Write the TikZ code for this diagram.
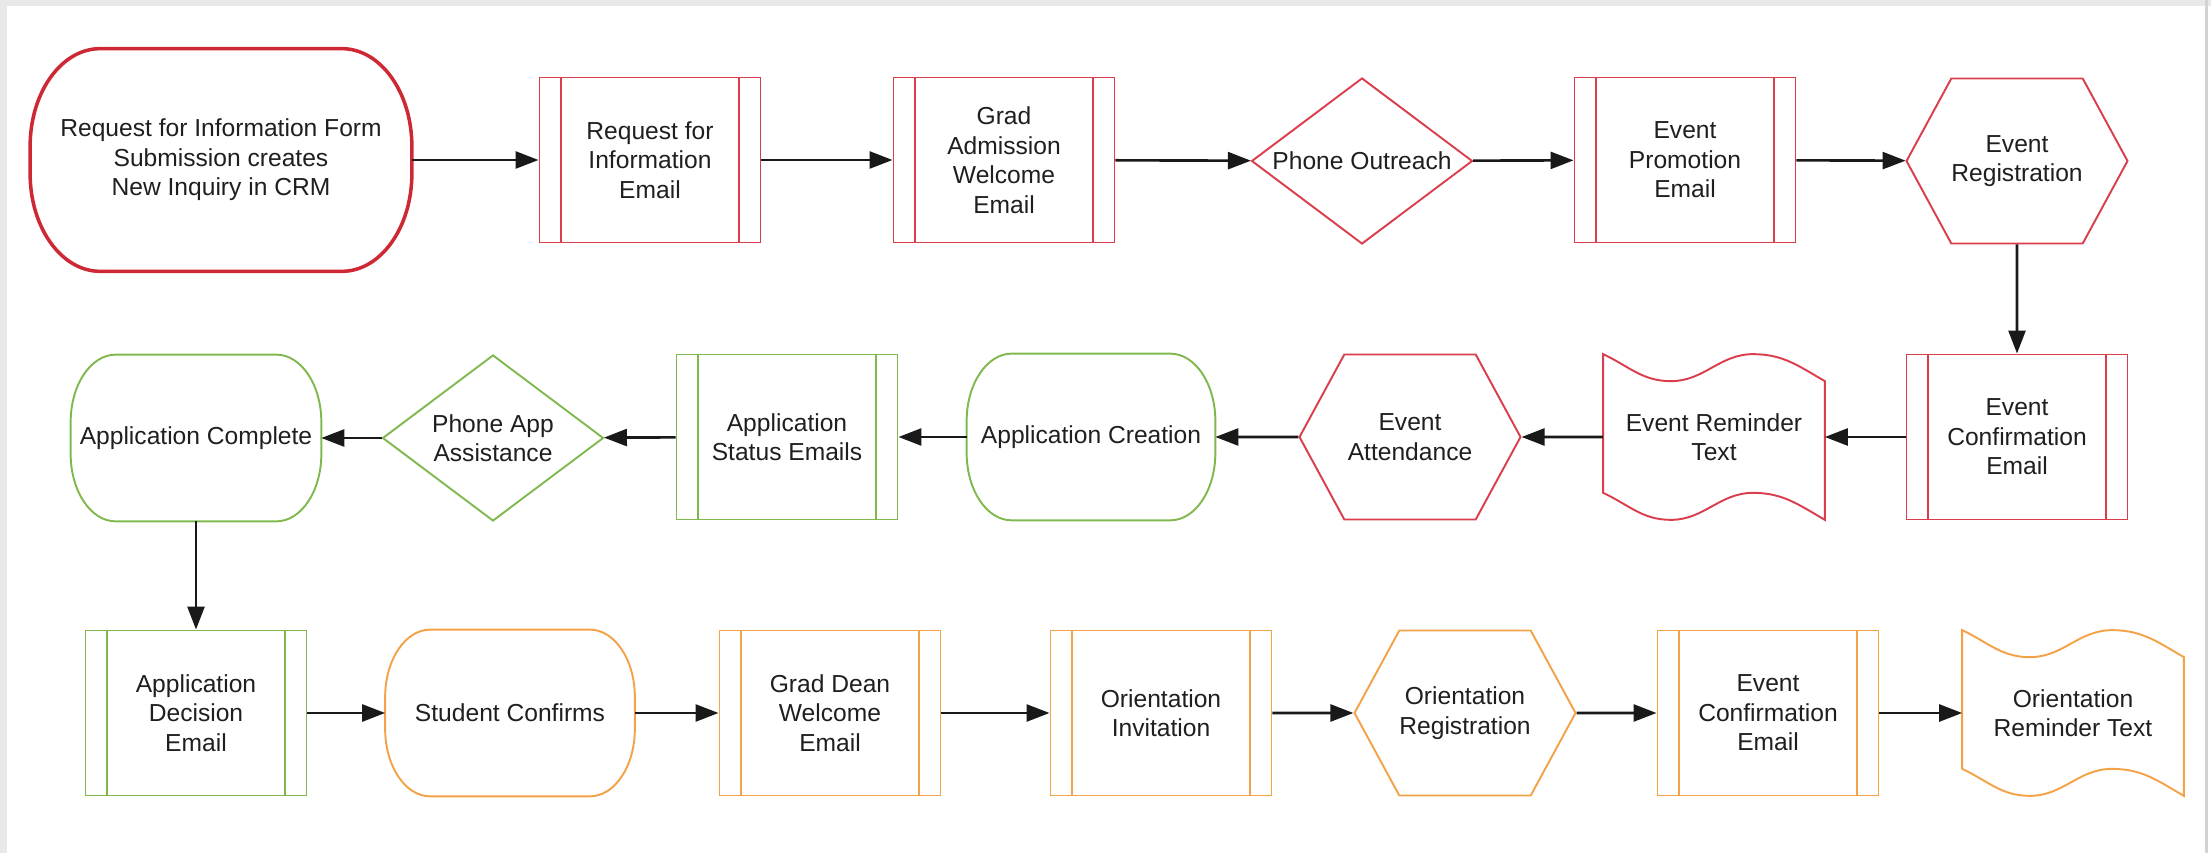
\documentclass[tikz,border=0pt]{standalone}
\usepackage{fontspec}
\setmainfont{Liberation Sans}
\usetikzlibrary{shapes.geometric,shapes.symbols,arrows.meta}
\definecolor{flowred}{RGB}{218,62,76}
\definecolor{startred}{RGB}{205,40,52}
\definecolor{flowgreen}{RGB}{128,184,78}
\definecolor{floworange}{RGB}{244,162,72}
\tikzset{
  flowtext/.style={font=\fontsize{14}{16.8}\selectfont, text=black!88, align=center, inner sep=0pt},
  emailbox/.style={flowtext, rectangle, draw=#1, line width=1.1pt,
    minimum width=44.2mm, minimum height=33mm,
    path picture={\draw[#1, line width=1.1pt]
      ([xshift=4.3mm]path picture bounding box.north west) -- ([xshift=4.3mm]path picture bounding box.south west)
      ([xshift=-4.3mm]path picture bounding box.north east) -- ([xshift=-4.3mm]path picture bounding box.south east);}},
  decision/.style={flowtext, diamond, draw=#1, line width=1.1pt, aspect=1.35,
    minimum width=44.2mm, minimum height=33.2mm},
  hexa/.style={flowtext, signal, signal to=east and west, signal pointer angle=123,
    draw=#1, line width=1.1pt, minimum width=44.2mm, minimum height=33mm},
  termbox/.style={flowtext, rectangle, minimum width=#1},
  tapebox/.style={flowtext, rectangle, minimum width=44.2mm, minimum height=33mm},
  flowarrow/.style={line width=1.5pt, black!90, -{Triangle[length=4.6mm,width=3.4mm]}}
}
\begin{document}
\begin{tikzpicture}[x=0.2mm, y=-0.2mm]
  \useasboundingbox (0,0) rectangle (2211,853);
  % screenshot frame
  \fill[gray!18] (0,0) rectangle (2211,6);
  \fill[gray!18] (0,0) rectangle (7,853);
  \fill[gray!35] (2205,0) rectangle (2208,853);

  % row 1
  \node[termbox=76.2mm, minimum height=44.4mm] (start) at (221,160)
    {Request for Information Form\\Submission creates\\New Inquiry in CRM};
  \node[emailbox=flowred] (rfimail) at (650,160) {Request for\\Information\\Email};
  \node[emailbox=flowred] (gradwelcome) at (1004,160) {Grad\\Admission\\Welcome\\Email};
  \node[decision=flowred] (phone) at (1362,161) {Phone Outreach};
  \node[emailbox=flowred] (promo) at (1685,160) {Event\\Promotion\\Email};
  \node[hexa=flowred] (eventreg) at (2017,161) {Event\\Registration};

  % row 2
  \node[emailbox=flowred] (confirm) at (2017,437) {Event\\Confirmation\\Email};
  \node[tapebox] (remind) at (1714,437) {Event Reminder\\Text};
  \node[hexa=flowred] (attend) at (1410,437) {Event\\Attendance};
  \node[termbox=49.6mm, minimum height=33.2mm] (appmake) at (1091,437) {Application Creation};
  \node[emailbox=flowgreen] (status) at (787,437) {Application\\Status Emails};
  \node[decision=flowgreen] (phoneapp) at (493,438) {Phone App\\Assistance};
  \node[termbox=50mm, minimum height=33.2mm] (appdone) at (196,438) {Application Complete};

  % row 3
  \node[emailbox=flowgreen] (decisionmail) at (196,713) {Application\\Decision\\Email};
  \node[termbox=49.8mm, minimum height=33.2mm] (confirms) at (510,713) {Student Confirms};
  \node[emailbox=floworange] (deanwelcome) at (830,713) {Grad Dean\\Welcome\\Email};
  \node[emailbox=floworange] (orientinv) at (1161,713) {Orientation\\Invitation};
  \node[hexa=floworange] (orientreg) at (1465,713) {Orientation\\Registration};
  \node[emailbox=floworange] (confirmtwo) at (1768,713) {Event\\Confirmation\\Email};
  \node[tapebox] (orientremind) at (2073,713) {Orientation\\Reminder Text};

  % terminator outlines
  \foreach \n/\c/\w/\rx/\ry in {start/startred/2pt/14mm/19.5mm,
      appmake/flowgreen/1.1pt/9mm/13.5mm, appdone/flowgreen/1.1pt/9mm/13.5mm,
      confirms/floworange/1.1pt/9mm/13.5mm}
    \draw[\c, line width=\w] ([xshift=\rx]\n.north west) -- ([xshift=-\rx]\n.north east)
      arc[start angle=90, end angle=0, x radius=\rx, y radius=\ry]
      -- ([yshift=\ry]\n.south east)
      arc[start angle=0, end angle=-90, x radius=\rx, y radius=\ry]
      -- ([xshift=\rx]\n.south west)
      arc[start angle=270, end angle=180, x radius=\rx, y radius=\ry]
      -- ([yshift=-\ry]\n.north west)
      arc[start angle=180, end angle=90, x radius=\rx, y radius=\ry] -- cycle;

  % text message outlines
  \foreach \n/\c in {remind/flowred, orientremind/floworange}
    \draw[\c, line width=1.1pt] (\n.north west)
      to[out=-25, in=180] ([xshift=13.5mm, yshift=-5.4mm]\n.north west)
      to[out=0, in=180] ([xshift=30mm]\n.north west)
      to[out=0, in=150] ([yshift=-5.4mm]\n.north east)
      -- (\n.south east)
      to[out=150, in=0] ([xshift=30mm, yshift=5.4mm]\n.south west)
      to[out=180, in=0] ([xshift=13.5mm]\n.south west)
      to[out=180, in=-25] ([yshift=5.4mm]\n.south west)
      -- cycle;

  % connectors
  \draw[flowarrow] (start) -- (rfimail);
  \draw[flowarrow] (rfimail) -- (gradwelcome);
  \draw[flowarrow] (gradwelcome) -- (phone);
  \draw[flowarrow] (phone) -- (promo);
  \draw[flowarrow] (promo) -- (eventreg);
  \draw[flowarrow] (eventreg) -- (confirm);
  \draw[flowarrow] (confirm) -- (remind);
  \draw[flowarrow] (remind) -- (attend);
  \draw[flowarrow] (attend) -- (appmake);
  \draw[flowarrow] (appmake) -- (status);
  \draw[flowarrow] (status) -- (phoneapp);
  \draw[flowarrow] (phoneapp) -- (appdone);
  \draw[flowarrow] (appdone) -- (decisionmail);
  \draw[flowarrow] (decisionmail) -- (confirms);
  \draw[flowarrow] (confirms) -- (deanwelcome);
  \draw[flowarrow] (deanwelcome) -- (orientinv);
  \draw[flowarrow] (orientinv) -- (orientreg);
  \draw[flowarrow] (orientreg) -- (confirmtwo);
  \draw[flowarrow] (confirmtwo) -- (orientremind);
\end{tikzpicture}
\end{document}
